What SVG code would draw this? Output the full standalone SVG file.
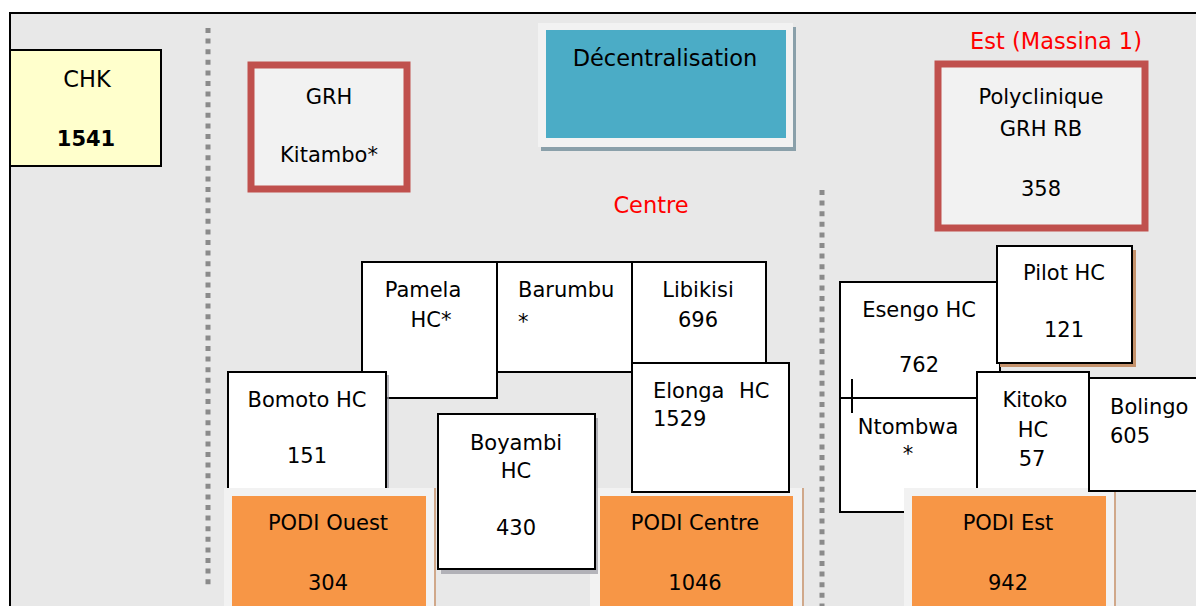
<svg xmlns="http://www.w3.org/2000/svg" width="1196" height="606" viewBox="0 0 1196 606">
<defs>
<style>
text{font-family:"DejaVu Sans","Liberation Sans",sans-serif;font-size:21px;fill:#000}
.c{text-anchor:middle}
.big{font-size:22.5px}
.red{fill:#ff0000}
.box{fill:#ffffff;stroke:#000;stroke-width:2}
.sh{fill:#9a9aa2;opacity:0.7}
.shb{fill:#c4926c}
.grh{fill:#f2f2f2;stroke:#c0504d;stroke-width:7}
.panel{fill:#f2f2f2}
.podi{fill:#f79646}
.dot{stroke:#8a8a8a;stroke-width:5;stroke-dasharray:5 5.6;fill:none}
</style>
</defs>
<rect x="0" y="0" width="1196" height="606" fill="#ffffff"/>
<rect x="10" y="13" width="1190" height="600" fill="#e8e8e8" stroke="#000" stroke-width="2"/>
<g id="dividers">
<line class="dot" x1="208" y1="28" x2="208" y2="588"/>
<line class="dot" x1="822" y1="190" x2="822" y2="606"/>
</g>
<g id="chk">
<rect x="10" y="50" width="151" height="116" fill="#ffffcc" stroke="#000" stroke-width="2"/>
<text class="c big" x="87" y="87">CHK</text>
<text class="c" x="86" y="146" font-weight="bold">1541</text>
</g>
<g id="grh-kitambo">
<rect class="grh" x="251" y="65" width="156" height="124"/>
<text class="c" x="329" y="104">GRH</text>
<text class="c" x="329" y="162">Kitambo*</text>
</g>
<g id="decentralisation">
<rect x="541" y="27" width="255" height="124" fill="#8aa0aa"/>
<rect x="538" y="23" width="255" height="124" fill="#f2f2f2"/>
<rect x="546" y="30" width="240" height="108" fill="#4bacc6"/>
<text class="c big" x="665" y="66">Décentralisation</text>
</g>
<g id="label-centre"><text class="c red big" x="651" y="213">Centre</text></g>
<g id="label-est"><text class="c red big" x="1056" y="49">Est (Massina 1)</text></g>
<g id="polyclinique">
<rect class="grh" x="938" y="64" width="207" height="164"/>
<text class="c" x="1041" y="104">Polyclinique</text>
<text class="c" x="1041" y="136">GRH RB</text>
<text class="c" x="1041" y="196">358</text>
</g>
<g id="pamela">
<rect class="box" x="362" y="262" width="135" height="136"/>
<text class="c" x="423" y="297">Pamela</text>
<text class="c" x="431" y="327">HC*</text>
</g>
<g id="barumbu">
<rect class="box" x="497" y="262" width="135" height="110"/>
<text x="518" y="297">Barumbu</text>
<text x="518" y="329">*</text>
</g>
<g id="libikisi">
<rect class="box" x="632" y="262" width="134" height="101"/>
<text class="c" x="698" y="297">Libikisi</text>
<text class="c" x="698" y="327">696</text>
</g>
<g id="bomoto">
<rect class="sh" x="231" y="375" width="158" height="120"/>
<rect class="box" x="228" y="372" width="158" height="120"/>
<text class="c" x="307" y="407">Bomoto HC</text>
<text class="c" x="307" y="463">151</text>
</g>
<g id="podi-ouest">
<rect x="433" y="488" width="3" height="118" fill="#d0a88a"/>
<rect class="panel" x="224" y="488" width="210" height="118"/>
<rect class="podi" x="232" y="496" width="194" height="110"/>
<text class="c" x="328" y="530">PODI Ouest</text>
<text class="c" x="328" y="590">304</text>
</g>
<g id="podi-centre">
<rect x="801" y="488" width="3" height="118" fill="#d0a88a"/>
<rect class="panel" x="590" y="488" width="212" height="118"/>
<rect class="podi" x="600" y="496" width="193" height="110"/>
<text class="c" x="695" y="530">PODI Centre</text>
<text class="c" x="695" y="590">1046</text>
</g>
<g id="elonga">
<rect class="box" x="632" y="363" width="157" height="129"/>
<text x="653" y="398">Elonga</text>
<text x="739" y="398">HC</text>
<text x="653" y="426">1529</text>
</g>
<g id="boyambi">
<rect class="sh" x="441" y="418" width="157" height="156"/>
<rect class="box" x="438" y="414" width="157" height="155"/>
<text class="c" x="516" y="450">Boyambi</text>
<text class="c" x="516" y="478">HC</text>
<text class="c" x="516" y="535">430</text>
</g>
<g id="esengo-ntombwa">
<rect class="box" x="840" y="282" width="160" height="230"/>
<line x1="840" y1="398" x2="978" y2="398" stroke="#000" stroke-width="2"/>
<line x1="852" y1="379" x2="852" y2="413" stroke="#000" stroke-width="2"/>
<text class="c" x="919" y="317">Esengo HC</text>
<text class="c" x="919" y="372">762</text>
<text class="c" x="908" y="434">Ntombwa</text>
<text class="c" x="908" y="461">*</text>
</g>
<g id="pilot">
<rect class="shb" x="1000" y="250" width="136" height="117"/>
<rect class="box" x="997" y="246" width="135" height="117"/>
<text class="c" x="1064" y="280">Pilot HC</text>
<text class="c" x="1064" y="337">121</text>
</g>
<g id="kitoko">
<rect class="box" x="977" y="372" width="112" height="130"/>
<text class="c" x="1035" y="407">Kitoko</text>
<text class="c" x="1033" y="437">HC</text>
<text class="c" x="1032" y="466">57</text>
</g>
<g id="podi-est">
<rect x="1113" y="488" width="3" height="118" fill="#d0a88a"/>
<rect class="panel" x="904" y="488" width="210" height="118"/>
<rect class="podi" x="912" y="496" width="194" height="110"/>
<text class="c" x="1008" y="530">PODI Est</text>
<text class="c" x="1008" y="590">942</text>
</g>
<g id="bolingo">
<rect class="box" x="1089" y="378" width="120" height="113"/>
<text x="1110" y="414">Bolingo</text>
<text x="1110" y="443">605</text>
</g>
<g id="connectors"></g>
</svg>
